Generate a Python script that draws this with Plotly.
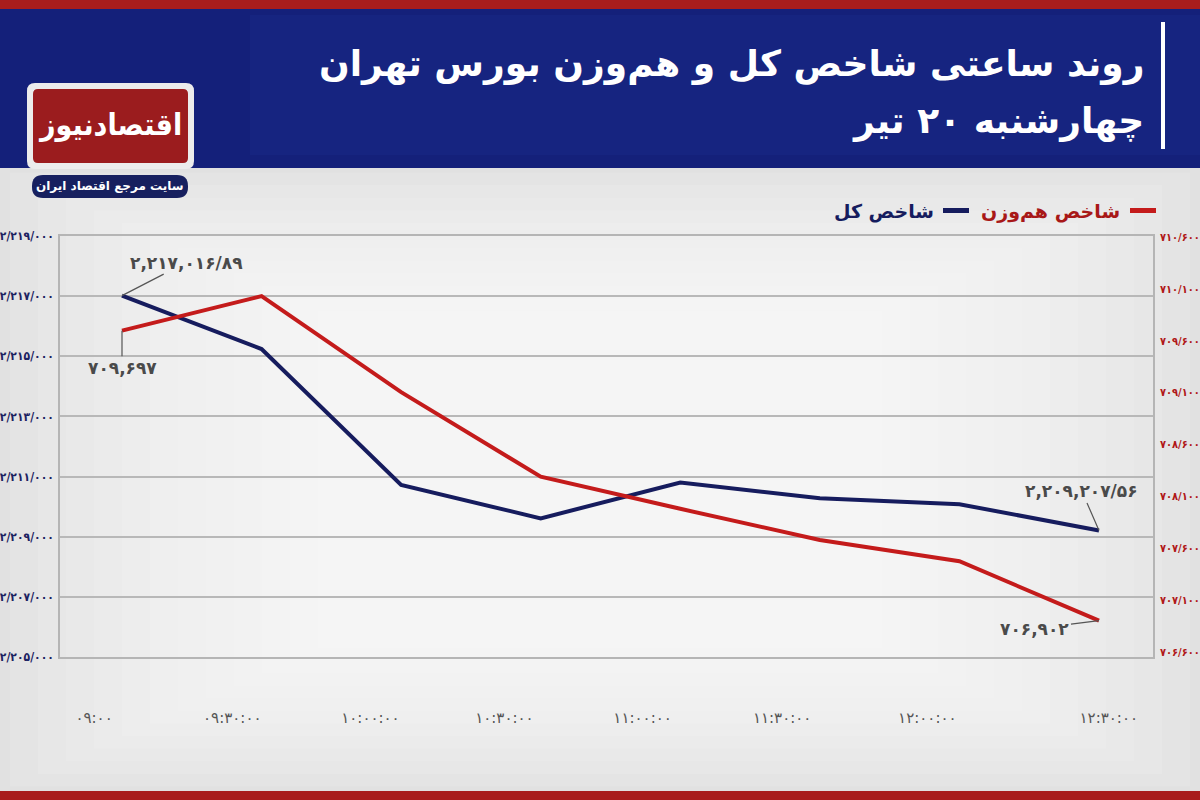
import plotly.graph_objects as go

# ---------------- data ----------------
times = ["09:00", "09:30", "10:00", "10:30", "11:00", "11:30", "12:00", "12:30"]
time_labels = ["۰۹:۰۰", "۰۹:۳۰:۰۰", "۱۰:۰۰:۰۰", "۱۰:۳۰:۰۰",
               "۱۱:۰۰:۰۰", "۱۱:۳۰:۰۰", "۱۲:۰۰:۰۰", "۱۲:۳۰:۰۰"]
total_index = [2217016.89, 2215240, 2210720, 2209610, 2210800, 2210280, 2210080, 2209207.56]
equal_weight_index = [709697, 710030, 709105, 708290, 707980, 707680, 707475, 706902]

left_tick_vals = [2219000, 2217000, 2215000, 2213000, 2211000, 2209000, 2207000, 2205000]
left_tick_text = ["۲/۲۱۹/۰۰۰", "۲/۲۱۷/۰۰۰", "۲/۲۱۵/۰۰۰", "۲/۲۱۳/۰۰۰",
                  "۲/۲۱۱/۰۰۰", "۲/۲۰۹/۰۰۰", "۲/۲۰۷/۰۰۰", "۲/۲۰۵/۰۰۰"]
right_tick_vals = [710600, 710100, 709600, 709100, 708600, 708100, 707600, 707100, 706600]
right_tick_text = ["۷۱۰/۶۰۰", "۷۱۰/۱۰۰", "۷۰۹/۶۰۰", "۷۰۹/۱۰۰", "۷۰۸/۶۰۰",
                   "۷۰۸/۱۰۰", "۷۰۷/۶۰۰", "۷۰۷/۱۰۰", "۷۰۶/۶۰۰"]

series_names = ["شاخص کل", "شاخص هم‌وزن"]
title_line1 = "روند ساعتی شاخص کل و هم‌وزن بورس تهران"
title_line2 = "چهارشنبه ۲۰ تیر"
logo_text = "اقتصادنیوز"
logo_sub = "سایت مرجع اقتصاد ایران"
label_first_total = "۲,۲۱۷,۰۱۶/۸۹"
label_last_total = "۲,۲۰۹,۲۰۷/۵۶"
label_first_eq = "۷۰۹,۶۹۷"
label_last_eq = "۷۰۶,۹۰۲"

# label placement shifts (style only)
label_shift = [-0.20, -0.21, -0.22, -0.26, -0.27, -0.27, -0.23, 0.07]

NAVY = "#161c5e"
RED = "#c41b1b"
FONT = "DejaVu Sans"
FONT_C = "DejaVu Sans Condensed, DejaVu Sans"

W, H = 1200, 800
ML, MR, MT, MB = 60, 47, 236, 143
PW, PH = W - ML - MR, H - MT - MB


def xp(X):
    return (X - ML) / PW


def yp(Y):
    return (H - MB - Y) / PH


xi = list(range(len(times)))

fig = go.Figure()
fig.add_trace(go.Scatter(x=xi, y=total_index, mode="lines", name=series_names[0],
                         line=dict(color=NAVY, width=4), yaxis="y",
                         customdata=times, hovertemplate="%{customdata}: %{y}<extra></extra>"))
fig.add_trace(go.Scatter(x=xi, y=equal_weight_index, mode="lines", name=series_names[1],
                         line=dict(color=RED, width=4), yaxis="y2",
                         customdata=times, hovertemplate="%{customdata}: %{y}<extra></extra>"))

shapes = []


def rect(x0, y0, x1, y1, color, opacity=1.0, layer="below", line=None):
    shapes.append(dict(type="rect", xref="paper", yref="paper",
                       x0=xp(x0), x1=xp(x1), y0=yp(y1), y1=yp(y0),
                       fillcolor=color, opacity=opacity, layer=layer,
                       line=line or dict(width=0)))


def rrect(x0, y0, x1, y1, r, color, layer="above"):
    rx = r / PW
    ry = r / PH
    X0, X1 = xp(x0), xp(x1)
    Y0, Y1 = yp(y1), yp(y0)
    path = (f"M {X0+rx},{Y0} L {X1-rx},{Y0} Q {X1},{Y0} {X1},{Y0+ry} "
            f"L {X1},{Y1-ry} Q {X1},{Y1} {X1-rx},{Y1} L {X0+rx},{Y1} "
            f"Q {X0},{Y1} {X0},{Y1-ry} L {X0},{Y0+ry} Q {X0},{Y0} {X0+rx},{Y0} Z")
    shapes.append(dict(type="path", xref="paper", yref="paper", path=path,
                       fillcolor=color, line=dict(width=0), layer=layer))


# background vignette (light grey edges, whiter center)
for i in range(12):
    inset = 10 + i * 28
    rect(inset, 168 + inset * 0.45, W - inset, 791 - inset * 0.45, "#ffffff", 0.11)

# header
rect(0, 0, W, 168, "#14207a")
rect(250, 15, W, 155, "#1d2d90", 0.30)
rect(0, 0, W, 9, "#a81d1d")
rect(0, 791, W, 800, "#a81d1d")
rect(1161, 22, 1165, 149, "#ffffff", layer="above")

# logo
rrect(27, 83, 194, 169, 8, "#ececec")
rrect(33, 89, 188, 163, 5, "#9b1c1e")
rrect(32, 175, 188, 198, 11, "#17205f")

annotations = []


def text(X, Y, s, size, color, xanchor="center", bold=True, family=FONT):
    annotations.append(dict(xref="paper", yref="paper", x=xp(X), y=yp(Y),
                            text=f"<b>{s}</b>" if bold else s, showarrow=False,
                            xanchor=xanchor, yanchor="middle",
                            font=dict(family=family, size=size, color=color)))


text(1146, 64, title_line1, 36, "#ffffff", xanchor="right")
text(1146, 121, title_line2, 36, "#ffffff", xanchor="right")
text(110, 124, logo_text, 30, "#ffffff", family=FONT_C)
text(110, 186, logo_sub, 12, "#ffffff")

# legend (RTL: marker on the right of the label)
rect(1130, 208, 1156, 213, RED, layer="above")
text(1122, 211, series_names[1], 19, "#a81818", xanchor="right")
rect(943, 208, 969, 213, NAVY, layer="above")
text(936, 211, series_names[0], 19, NAVY, xanchor="right")

# data labels with leader lines
lab_font = dict(family=FONT, size=17, color="#4a4a4a")
annotations += [
    dict(x=xi[0], y=total_index[0], xref="x", yref="y", text=f"<b>{label_first_total}</b>",
         showarrow=True, arrowhead=0, arrowwidth=1.2, arrowcolor="#555555",
         ax=64, ay=-33, font=lab_font),
    dict(x=xi[0], y=equal_weight_index[0], xref="x", yref="y2", text=f"<b>{label_first_eq}</b>",
         showarrow=True, arrowhead=0, arrowwidth=1.2, arrowcolor="#555555",
         ax=0, ay=37, font=lab_font),
    dict(x=xi[-1], y=total_index[-1], xref="x", yref="y", text=f"<b>{label_last_total}</b>",
         showarrow=True, arrowhead=0, arrowwidth=1.2, arrowcolor="#555555",
         ax=-17, ay=-39, font=lab_font),
    dict(x=xi[-1], y=equal_weight_index[-1], xref="x", yref="y2", text=f"<b>{label_last_eq}</b>",
         showarrow=True, arrowhead=0, arrowwidth=1.2, arrowcolor="#555555",
         ax=-64, ay=8, font=lab_font),
]

fig.update_layout(
    width=W, height=H,
    margin=dict(l=ML, r=MR, t=MT, b=MB, pad=0, autoexpand=False),
    paper_bgcolor="#e1e1e1",
    plot_bgcolor="rgba(0,0,0,0)",
    showlegend=False,
    font=dict(family=FONT),
    shapes=shapes,
    annotations=annotations,
    xaxis=dict(range=[-0.4442, 7.387], tickmode="array", automargin=False,
               tickvals=[i + s for i, s in zip(xi, label_shift)], ticktext=time_labels,
               ticks="outside", ticklen=46, tickcolor="rgba(0,0,0,0)",
               tickfont=dict(family=FONT, size=15, color="#555555"),
               showgrid=False, zeroline=False, showline=True, mirror=True,
               linecolor="#b5b5b5", linewidth=1.5),
    yaxis=dict(range=[2205000, 2219000], tickmode="array", automargin=False,
               tickvals=left_tick_vals, ticktext=[f"<b>{t}</b>" for t in left_tick_text],
               tickfont=dict(family=FONT_C, size=12, color="#1b2160"),
               showgrid=True, gridcolor="#b8b8b8", gridwidth=1.5, zeroline=False,
               showline=True, linecolor="#b5b5b5", linewidth=1.5, ticks="outside",
               ticklen=2, tickcolor="rgba(0,0,0,0)"),
    yaxis2=dict(range=[706551.8, 710609.6], overlaying="y", side="right", automargin=False,
                tickmode="array", tickvals=right_tick_vals,
                ticktext=[f"<b>{t}</b>" for t in right_tick_text],
                tickfont=dict(family=FONT_C, size=11, color="#b01818"),
                showgrid=False, zeroline=False, showline=True, linecolor="#b5b5b5",
                linewidth=1.5, ticks="outside", ticklen=3, tickcolor="rgba(0,0,0,0)"),
)

fig.write_html("out.html")
